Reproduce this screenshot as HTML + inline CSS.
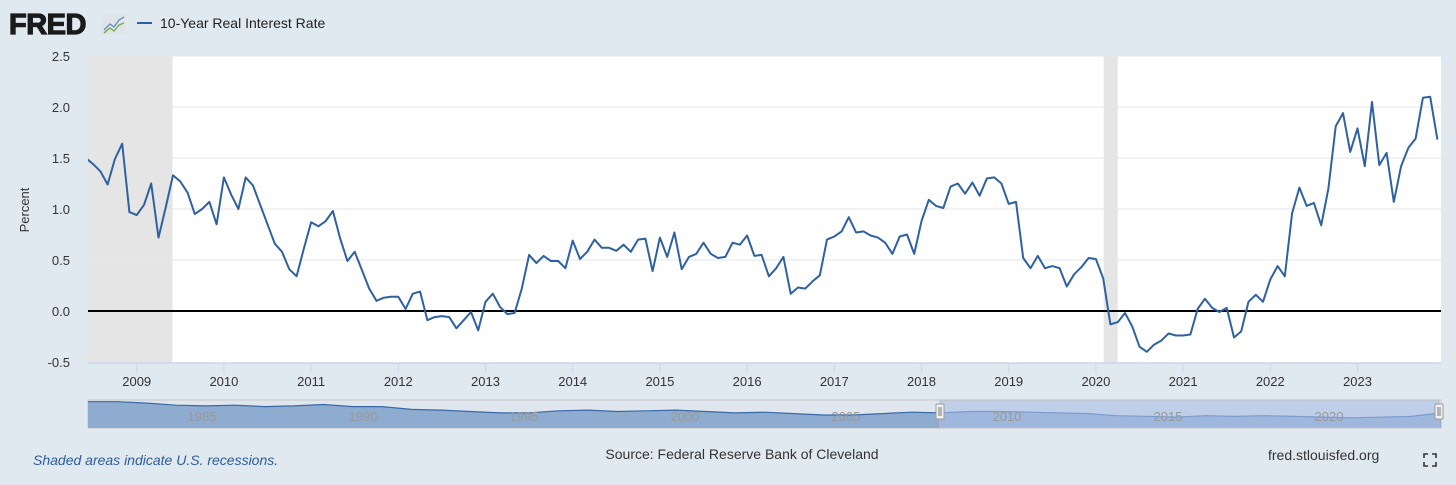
<!DOCTYPE html>
<html><head><meta charset="utf-8"><style>
html,body{margin:0;padding:0;background:#e1e9f0;width:1456px;height:485px;overflow:hidden;font-family:"Liberation Sans",sans-serif;}
svg{display:block}
</style></head><body>
<svg id="chart" width="1456" height="485" xmlns="http://www.w3.org/2000/svg">
  <rect x="0" y="0" width="1456" height="485" fill="#e1e9f0"/>
  <g>
    <text x="9" y="34" font-size="29" font-weight="bold" fill="#1a1a1a" stroke="#1a1a1a" stroke-width="1.2" font-family="Liberation Sans, sans-serif" letter-spacing="-0.5">FRED</text>
    <rect x="102" y="14" width="23" height="20" fill="#dfe4e8"/>
    <polyline points="104,30 110,24 114,27 119,20 124,17" fill="none" stroke="#5a8fc8" stroke-width="1.3"/>
    <polyline points="104,33 110,28 114,31 119,25 124,23" fill="none" stroke="#7aa840" stroke-width="1.3"/>
  </g>
  <g>
    <line x1="137" y1="23" x2="152" y2="23" stroke="#2f61a1" stroke-width="2"/>
    <text x="160" y="28" font-size="14" fill="#222">10-Year Real Interest Rate</text>
  </g>
  <rect x="88" y="56" width="1353" height="307" fill="#ffffff"/>
  <g id="rec"></g>
  <g id="grid"></g>
  <g id="yticks"></g>
  <g id="xticks"></g>
  <clipPath id="clip"><rect x="88" y="50" width="1353" height="320"/></clipPath>
  <g id="series" clip-path="url(#clip)"></g>
  <text x="29" y="210" font-size="13" fill="#333" transform="rotate(-90 29 210)" text-anchor="middle">Percent</text>
  <g id="nav"></g>
  <text x="33" y="465" font-size="14" font-style="italic" fill="#2c5c9c">Shaded areas indicate U.S. recessions.</text>
  <text x="742" y="459" font-size="14" fill="#333" text-anchor="middle">Source: Federal Reserve Bank of Cleveland</text>
  <text x="1268" y="460" font-size="14" fill="#333">fred.stlouisfed.org</text>
  <g stroke="#333" stroke-width="1.6" fill="none">
    <path d="M1424,458 v-4 h4 M1432,454 h4 v4 M1436,462 v4 h-4 M1428,466 h-4 v-4"/>
  </g>
</svg>
<script>
const yTicks = [-0.5, 0, 0.5, 1.0, 1.5, 2.0, 2.5];
const yTickLabels = ["-0.5","0.0","0.5","1.0","1.5","2.0","2.5"];
const xYears = [2009,2010,2011,2012,2013,2014,2015,2016,2017,2018,2019,2020,2021,2022,2023];
const startYear = 2008, startMonth = 5; // June 2008 (0-based month)
const values = [1.50,1.44,1.37,1.24,1.49,1.64,0.97,0.94,1.04,1.25,0.72,1.02,1.33,1.27,1.16,0.95,1.00,1.07,0.85,1.31,1.14,1.00,1.31,1.23,1.04,0.85,0.66,0.58,0.41,0.34,0.61,0.87,0.83,0.88,0.98,0.71,0.49,0.58,0.40,0.22,0.10,0.13,0.14,0.14,0.02,0.17,0.19,-0.09,-0.06,-0.05,-0.06,-0.17,-0.09,-0.01,-0.19,0.09,0.17,0.04,-0.03,-0.02,0.22,0.55,0.47,0.54,0.49,0.49,0.42,0.69,0.51,0.58,0.70,0.62,0.62,0.59,0.65,0.58,0.70,0.71,0.39,0.72,0.53,0.77,0.41,0.53,0.56,0.67,0.56,0.52,0.53,0.67,0.65,0.74,0.54,0.55,0.34,0.42,0.53,0.17,0.23,0.22,0.29,0.35,0.70,0.73,0.78,0.92,0.77,0.78,0.74,0.72,0.67,0.56,0.73,0.75,0.56,0.88,1.09,1.03,1.01,1.22,1.25,1.15,1.26,1.13,1.30,1.31,1.25,1.05,1.07,0.52,0.42,0.54,0.42,0.44,0.42,0.24,0.36,0.43,0.52,0.51,0.32,-0.13,-0.11,-0.02,-0.15,-0.35,-0.40,-0.33,-0.29,-0.22,-0.24,-0.24,-0.23,0.02,0.12,0.03,-0.01,0.03,-0.26,-0.20,0.09,0.16,0.09,0.31,0.44,0.34,0.96,1.21,1.03,1.06,0.84,1.20,1.81,1.94,1.56,1.79,1.42,2.05,1.43,1.55,1.07,1.42,1.60,1.69,2.09,2.10,1.68];
const recessions = [[2007.92, 2009.41], [2020.09, 2020.25]];
const navValues = [2.9,2.9,2.7,2.4,2.3,2.4,2.2,2.3,2.5,2.2,2.2,1.8,1.7,1.5,1.3,1.3,1.6,1.7,1.5,1.6,1.7,1.5,1.3,1.4,1.2,1.0,1.0,1.2,1.4,1.3,1.5,1.5,1.4,1.3,1.2,0.9,0.8,0.7,0.9,0.8,0.9,0.8,0.7,0.6,0.7,0.8,1.3];
const navLabels = ["1985","1990","1995","2000","2005","2010","2015","2020"];

const NS='http://www.w3.org/2000/svg';
const X0=136.7, PXY=87.2, Y0=311, PXU=102;
function xScale(yearFrac){return X0+(yearFrac-2009)*PXY;}
function yScale(v){return Y0-v*PXU;}
function mk(tag,attrs,parent){const e=document.createElementNS(NS,tag);for(const k in attrs)e.setAttribute(k,attrs[k]);parent.appendChild(e);return e;}

const rec=document.getElementById('rec');
recessions.forEach(r=>{
  const a=Math.max(88,xScale(r[0])), b=xScale(r[1]);
  const el=mk('rect',{x:a,y:56,width:b-a,height:307,fill:'#e5e5e5'},rec);
  
  
});
const grid=document.getElementById('grid'), yt=document.getElementById('yticks');
yTicks.forEach((v,i)=>{
  if(v!==0 && v!==-0.5){
    const g=mk('line',{x1:88,x2:1441,y1:yScale(v),y2:yScale(v),stroke:'#e6e6e6','stroke-width':1},grid);
    
    
  }
  const t=mk('text',{x:70,y:yScale(v)+5,'font-size':13,fill:'#333','text-anchor':'end'},yt);
  t.textContent=yTickLabels[i];
  
  
});
const zl=mk('line',{x1:88,x2:1441,y1:yScale(0),y2:yScale(0),stroke:'#000','stroke-width':2},grid);


const xt=document.getElementById('xticks');
const ax=mk('line',{x1:88,x2:1441,y1:363,y2:363,stroke:'#ccd6eb','stroke-width':1.5},xt);


xYears.forEach(y=>{
  const x=xScale(y);
  const tk=mk('line',{x1:x,x2:x,y1:363,y2:373,stroke:'#ccd6eb','stroke-width':1},xt);
  
  
  const t=mk('text',{x:x,y:386,'font-size':13,fill:'#333','text-anchor':'middle'},xt);
  t.textContent=String(y);
  
  
});
const pts=values.map((v,i)=>{const yf=startYear+(startMonth+i)/12;return xScale(yf).toFixed(1)+','+yScale(v).toFixed(1);}).join(' ');
const line=mk('polyline',{points:pts,fill:'none',stroke:'#2f61a1','stroke-width':2,'stroke-linejoin':'round'},document.getElementById('series'));



// navigator
const nav=document.getElementById('nav');
const nx0=88,nx1=1441,ny0=400,ny1=428;
const bg=mk('rect',{x:nx0,y:ny0,width:nx1-nx0,height:ny1-ny0,fill:'#dfe6ee',stroke:'#c8c8c8','stroke-width':1},nav);


const navX=i=>nx0+i*(nx1-nx0)/(navValues.length-1);
const navY=v=>ny1-6-v*7;
let d='M'+nx0+','+ny1+' '+navValues.map((v,i)=>'L'+navX(i).toFixed(1)+','+navY(v).toFixed(1)).join(' ')+' L'+nx1+','+ny1+' Z';
const area=mk('path',{d:d,fill:'#8eaccf'},nav);


const nl=mk('polyline',{points:navValues.map((v,i)=>navX(i).toFixed(1)+','+navY(v).toFixed(1)).join(' '),fill:'none',stroke:'#3a68a8','stroke-width':1.2},nav);


const sel=mk('rect',{x:940,y:ny0,width:1439-940,height:ny1-ny0,fill:'rgba(170,190,230,0.6)',stroke:'#c0c0c0'},nav);


navLabels.forEach((l,i)=>{
  const t=mk('text',{x:202+i*161,y:421,'font-size':13,fill:'#999','text-anchor':'middle'},nav);
  t.textContent=l;
  
  
});
[940,1439].forEach(x=>{
  const h=mk('rect',{x:x-4,y:404,width:8,height:15,fill:'#f2f2f2',stroke:'#999',rx:1},nav);
  
  
  mk('line',{x1:x-1,x2:x-1,y1:407,y2:416,stroke:'#777'},nav);
  mk('line',{x1:x+1,x2:x+1,y1:407,y2:416,stroke:'#777'},nav);
});
</script>
</body></html>
